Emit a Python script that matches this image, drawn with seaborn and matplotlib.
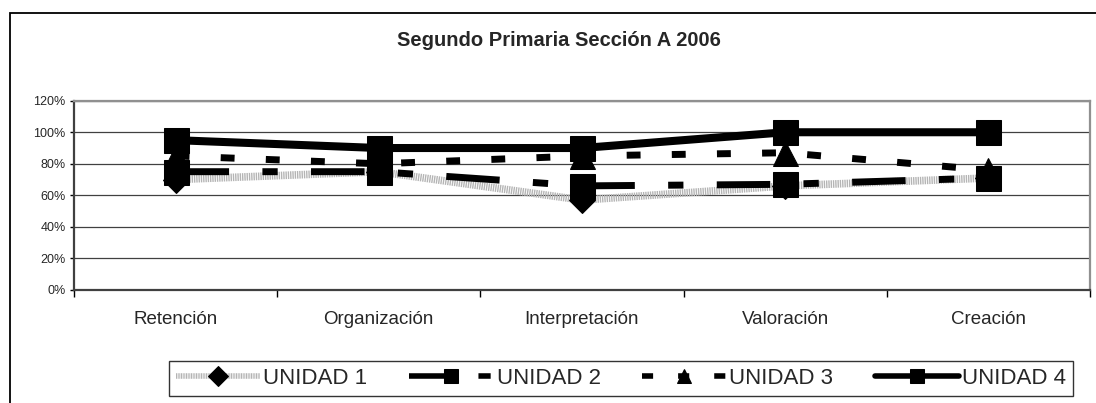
import numpy as np
import pandas as pd
import matplotlib.pyplot as plt
import seaborn as sns
from matplotlib.patches import Rectangle

categories = ['Retención', 'Organización', 'Interpretación', 'Valoración', 'Creación']
unidad1 = [0.70, 0.75, 0.57, 0.66, 0.71]
unidad2 = [0.75, 0.75, 0.66, 0.67, 0.71]
unidad3 = [0.85, 0.80, 0.85, 0.87, 0.76]
unidad4 = [0.95, 0.90, 0.90, 1.00, 1.00]
y_ticks = [0, 0.2, 0.4, 0.6, 0.8, 1.0, 1.2]

sns.set_style('white')
plt.rcParams['font.family'] = ['Liberation Sans', 'DejaVu Sans']

fig = plt.figure(figsize=(10.96, 4.03), dpi=100)
ax = fig.add_axes([74 / 1096, 1 - 290 / 403, 1016 / 1096, 189.3 / 403])

# outer chart border (top and left edges visible)
fig.patches.append(Rectangle((10 / 1096, -0.1), 1.2, 1.1 - 13 / 403, transform=fig.transFigure,
                             fill=False, edgecolor='black', linewidth=1.3))

x = np.arange(len(categories))
series = [
    ('UNIDAD 1', unidad1, dict(color='#b4b4b4', linewidth=5.5, linestyle=(0, (0.18, 0.12)),
                               marker='D', markersize=13)),
    ('UNIDAD 2', unidad2, dict(color='black', linewidth=5, linestyle=(0, (7.7, 4.8, 2.2, 4.8)),
                               marker='s', markersize=18)),
    ('UNIDAD 3', unidad3, dict(color='black', linewidth=5, linestyle=(0, (2.0, 4.5)),
                               marker='^', markersize=18)),
    ('UNIDAD 4', unidad4, dict(color='black', linewidth=5.8, linestyle='-',
                               marker='s', markersize=18)),
]
for name, vals, kw in series:
    df = pd.DataFrame({'x': x, 'y': vals})
    sns.lineplot(data=df, x='x', y='y', ax=ax, label=name,
                 markerfacecolor='black', markeredgecolor='black', **kw)

ax.set_xlim(-0.5, len(categories) - 0.5)
ax.set_ylim(0, 1.2)
ax.set_yticks(y_ticks)
ax.set_yticklabels([f'{int(round(v * 100))}%' for v in y_ticks], fontsize=9)
ax.set_xticks(x)
ax.set_xticklabels(categories, fontsize=13.5)
ax.set_xticks(np.arange(-0.5, len(categories)), minor=True)
ax.tick_params(axis='x', which='major', length=0, pad=15)
ax.tick_params(axis='x', which='minor', length=5, width=1, direction='out', color='black', bottom=True)
ax.tick_params(axis='y', length=3, width=1, direction='out', color='black', left=True, pad=3)
ax.set_xlabel('')
ax.set_ylabel('')
ax.grid(axis='y', color='#404040', linewidth=0.9)
ax.set_axisbelow(True)
for s in ['top', 'right']:
    ax.spines[s].set_color('#909090')
    ax.spines[s].set_linewidth(1.6)
for s in ['left', 'bottom']:
    ax.spines[s].set_color('#404040')
    ax.spines[s].set_linewidth(1.6)

fig.text(559 / 1096, 1 - 40 / 403, 'Segundo Primaria Sección A 2006', ha='center', va='center',
         fontsize=14.5, fontweight='bold')

leg = ax.legend(loc='center', bbox_to_anchor=(621 / 1096, 1 - 378.5 / 403), bbox_transform=fig.transFigure,
                ncol=4, frameon=True, fancybox=False, edgecolor='black', fontsize=16,
                handlelength=3.8, handletextpad=0.15, columnspacing=1.85, borderpad=0.3)
leg.get_frame().set_linewidth(1.0)
for h in leg.legend_handles:
    h.set_markersize(10)
    h.set_linewidth(4)

fig.savefig('out.png', dpi=100)
